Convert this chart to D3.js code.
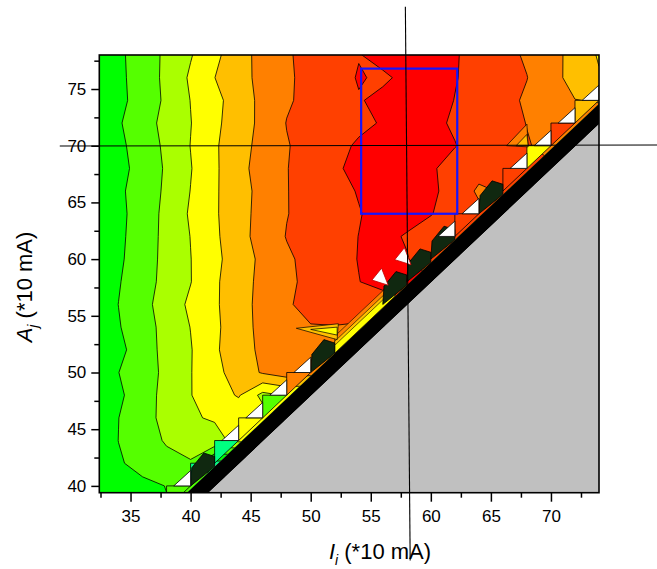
<!DOCTYPE html>
<html><head><meta charset="utf-8">
<script src="https://cdn.jsdelivr.net/npm/d3@7"></script>
<style>
body{margin:0;background:#fff}
svg{display:block}
text{font-family:"Liberation Sans",Arial,Helvetica,sans-serif;fill:#000}
</style>
</head><body>
<svg id="chart" width="657" height="569"></svg>
<script>
// ---------------- data ----------------
// grid of currents I_i (columns) and A_j (rows, top to bottom), units of 10 mA
const currentI = [32,34,36,38,40,42,44,46,48,50,52,54,56,58,60,62,64,66,68,70,72,74];
const currentA = [78,76,74,72,70,68,66,64,62,60,58,56,54,52,50,48,46,44,42,40,38];
const levelValues = [
 [-0.30,0.30,0.99,1.69,2.43,3.26,4.12,4.82,5.40,5.78,6.11,6.44,6.90,7.10,7.00,6.57,6.19,5.80,5.38,4.83,4.17,3.40], // 78
 [-0.35,0.27,0.97,1.72,2.64,3.49,4.15,4.78,5.40,5.70,5.93,6.60,6.30,6.80,7.00,6.55,6.19,5.86,5.52,4.86,4.13,3.60], // 76
 [-0.35,0.23,0.94,1.67,2.52,3.21,4.00,4.75,5.39,5.77,6.09,6.41,6.80,7.00,6.88,6.48,6.14,5.79,5.37,4.58,4.52,4.45], // 74
 [-0.30,0.40,1.09,1.79,2.47,3.29,4.01,4.75,5.53,5.79,6.06,6.30,6.57,6.90,6.69,6.40,6.10,5.80,5.48,5.20,4.90,4.90], // 72
 [-0.30,0.27,0.97,1.69,2.52,3.37,4.13,4.81,5.44,5.85,6.23,6.62,6.90,7.10,6.90,6.53,6.19,5.86,5.55,5.30,5.30,5.30], // 70
 [-0.20,0.17,0.89,1.62,2.45,3.34,4.21,4.89,5.47,5.91,6.35,6.78,7.00,6.90,6.60,6.20,5.95,5.75,5.60,5.60,5.60,5.60], // 68
 [-0.30,0.31,0.97,1.66,2.52,3.37,4.11,4.81,5.47,5.84,6.18,6.56,6.90,6.85,6.60,6.30,5.30,5.60,5.60,5.60,5.60,5.60], // 66
 [-0.30,0.24,0.97,1.75,2.62,3.37,4.14,4.84,5.47,5.81,6.13,6.45,6.80,6.85,6.53,6.20,5.80,5.80,5.80,5.80,5.80,5.80], // 64
 [-0.30,0.28,1.01,1.76,2.52,3.32,4.14,4.90,5.54,5.86,6.18,6.51,6.75,6.42,6.20,5.80,5.80,5.80,5.80,5.80,5.80,5.80], // 62
 [-0.40,0.33,1.05,1.77,2.48,3.26,4.01,4.72,5.35,5.79,6.16,6.53,6.80,6.55,6.00,6.00,6.00,6.00,6.00,6.00,6.00,6.00], // 60
 [-0.25,0.43,1.11,1.79,2.47,3.34,4.10,4.75,5.31,5.74,6.11,6.48,6.80,6.60,6.60,6.60,6.60,6.60,6.60,6.60,6.60,6.60], // 58
 [-0.18,0.51,1.20,1.93,2.68,3.35,4.11,4.80,5.39,5.80,6.10,6.30,6.00,6.00,6.00,6.00,6.00,6.00,6.00,6.00,6.00,6.00], // 56
 [-0.25,0.43,1.11,1.80,2.52,3.30,4.08,4.78,5.30,5.45,5.45,5.30,5.30,5.30,5.30,5.30,5.30,5.30,5.30,5.30,5.30,5.30], // 54
 [-0.30,0.22,1.05,1.79,2.44,3.36,4.06,4.71,5.10,5.20,5.00,5.00,5.00,5.00,5.00,5.00,5.00,5.00,5.00,5.00,5.00,5.00], // 52
 [-0.20,0.49,1.08,1.71,2.46,3.23,3.92,4.60,5.00,4.80,4.80,4.80,4.80,4.80,4.80,4.80,4.80,4.80,4.80,4.80,4.80,4.80], // 50
 [-0.30,0.31,1.08,1.80,2.47,3.00,3.60,2.20,2.60,2.60,2.60,2.60,2.60,2.60,2.60,2.60,2.60,2.60,2.60,2.60,2.60,2.60], // 48
 [-0.20,0.49,1.13,1.79,2.45,2.55,2.70,3.00,3.00,3.00,3.00,3.00,3.00,3.00,3.00,3.00,3.00,3.00,3.00,3.00,3.00,3.00], // 46
 [-0.20,0.51,1.06,1.60,2.00,2.30,2.70,2.70,2.70,2.70,2.70,2.70,2.70,2.70,2.70,2.70,2.70,2.70,2.70,2.70,2.70,2.70], // 44
 [-0.30,0.40,0.80,1.20,1.40,-0.80,-0.80,-0.80,-0.80,-0.80,-0.80,-0.80,-0.80,-0.80,-0.80,-0.80,-0.80,-0.80,-0.80,-0.80,-0.80,-0.80], // 42
 [-0.20,0.10,0.30,0.52,0.90,0.90,0.90,0.90,0.90,0.90,0.90,0.90,0.90,0.90,0.90,0.90,0.90,0.90,0.90,0.90,0.90,0.90], // 40
 [-0.20,0.10,0.30,0.45,0.45,0.45,0.45,0.45,0.45,0.45,0.45,0.45,0.45,0.45,0.45,0.45,0.45,0.45,0.45,0.45,0.45,0.45]  // 38
];
const contourLevels = [-0.5,0.5,1.5,2.5,3.5,4.5,5.5,6.5];
// cells just above the diagonal I = A (end point of the cell, band index)
const diagonalCells = [[40,2],[42,0],[44,0],[46,4],[48,2],[50,6],[64,7],[68,7],[70,4],[72,7],[74,5]];
// dense contour packs along the diagonal (end point of the cell)
const densePacks = [42,52,58,60,62,66];
// thin bands running along the diagonal (from I, to I, band)
const diagonalStrips = [[52,57,6],[52,57,5],[52,57,4]];
// isolated artefact triangles near the diagonal: three (I, A) corners and band
const artefacts = [
  [[66.3,70.0],[68.0,71.9],[68.1,69.9],6],
  [[67.1,70.0],[68.0,71.0],[68.1,70.0],5],
  [[48.8,53.9],[52.3,54.3],[52.2,52.9],5],
  [[50.0,53.8],[52.2,54.0],[52.2,53.3],4]
];
// white (uncovered) triangles at diagonal grid points
const whiteDiagonal = [40,44,46,48,50,62,64,68,70,72,74];
const whiteSpots = [[55.8,58.3],[57.7,60.1]];
const selectionI = [54.2,62.2];
const selectionA = [64.0,76.8];
const crossVertical = [[57.88,82.26],[58.28,33.43]];
const crossHorizontal = [[29.11,69.97],[78.86,70.06]];
const xTicks = [35,40,45,50,55,60,65,70];
const xMinor = [32.5,37.5,42.5,47.5,52.5,57.5,62.5,67.5,72.5];
const yTicks = [40,45,50,55,60,65,70,75];
const yMinor = [42.5,47.5,52.5,57.5,62.5,67.5,72.5,77.5];

// ---------------- styles ----------------
const bandColors = ["#00ff80","#00ff00","#55ff00","#aaff00","#ffff00","#ffbf00","#ff8000","#ff4000","#ff0000"];
const darkPack = "#102810";
const bandTopOffset = 0.3, bandBottomOffset = 2.1;
const stripWidths = [1.2,0.75,0.4];
const whiteW = 1.4, whiteH = 1.35;

const svg = d3.select("#chart");
const xDom = [32.4,74], yDom = [39.4,78];
const x = d3.scaleLinear().domain(xDom).range([99.3,599]);
const y = d3.scaleLinear().domain(yDom).range([492.7,55]);
const L = x.range()[0], R = x.range()[1], T = y.range()[1], B = y.range()[0];

const line = d3.line().x(d=>x(d[0])).y(d=>y(d[1]));
const poly = pts => line(pts) + "Z";

const defs = svg.append("defs");
defs.append("clipPath").attr("id","plotClip").append("rect")
  .attr("x",L).attr("y",T).attr("width",R-L).attr("height",B-T);
const validPts = [[xDom[0],yDom[1]],[xDom[1],yDom[1]],[xDom[1],xDom[1]-bandTopOffset],
  [yDom[0]+bandTopOffset,yDom[0]],[xDom[0],yDom[0]]];
defs.append("clipPath").attr("id","validClip").append("path").attr("d",poly(validPts));

// ---------------- contour field ----------------
const nx = currentI.length, ny = currentA.length;
const dI = currentI[1]-currentI[0], dA = currentA[1]-currentA[0];
const proj = d3.geoTransform({
  point(gx, gy){
    const I = currentI[0] + (gx-0.5)*dI;
    const A = currentA[0] + (gy-0.5)*dA;
    this.stream.point(x(I), y(A));
  }
});
const gpath = d3.geoPath(proj);
const contours = d3.contours().size([nx,ny]).thresholds(contourLevels)(levelValues.flat());

const field = svg.append("g").attr("clip-path","url(#plotClip)")
  .append("g").attr("clip-path","url(#validClip)");
field.append("rect").attr("x",L).attr("y",T).attr("width",R-L).attr("height",B-T).attr("fill",bandColors[0]);
field.selectAll("path.c").data(contours).join("path").attr("class","c")
  .attr("d",gpath)
  .attr("fill",(d,i)=>bandColors[i+1])
  .attr("stroke","#000").attr("stroke-width",0.8).attr("stroke-linejoin","round");

// strips along diagonal
field.selectAll("path.s").data(diagonalStrips).join("path").attr("class","s")
  .attr("d",(d,i)=>poly([[d[0],d[0]-bandTopOffset],[d[1],d[1]-bandTopOffset],[d[1],d[1]+stripWidths[i]],[d[0],d[0]+stripWidths[i]]]))
  .attr("fill",d=>bandColors[d[2]]).attr("stroke","#000").attr("stroke-width",0.6);

// diagonal cell triangles
field.selectAll("path.t").data(diagonalCells).join("path").attr("class","t")
  .attr("d",d=>poly([[d[0]-dI,d[0]-dI],[d[0]-dI,d[0]],[d[0],d[0]]]))
  .attr("fill",d=>bandColors[d[1]])
  .attr("stroke","#000").attr("stroke-width",0.8);

// dense contour packs
field.selectAll("path.p").data(densePacks).join("path").attr("class","p")
  .attr("d",d=>poly([[d-dI,d-dI],[d-dI*0.95,d-0.4],[d-dI*0.45,d+0.9],[d,d+0.6],[d,d-bandTopOffset]]))
  .attr("fill",darkPack).attr("stroke","#000").attr("stroke-width",0.8);

// artefact triangles
field.selectAll("path.a").data(artefacts).join("path").attr("class","a")
  .attr("d",d=>poly(d.slice(0,3)))
  .attr("fill",d=>bandColors[d[3]]).attr("stroke","#000").attr("stroke-width",0.7);

const overlay = svg.append("g").attr("clip-path","url(#plotClip)");
// black band and grey (no data) region
overlay.append("path").attr("d",poly([[yDom[0]+bandTopOffset,yDom[0]],[xDom[1],xDom[1]-bandTopOffset],
  [xDom[1],xDom[1]-bandBottomOffset],[yDom[0]+bandBottomOffset,yDom[0]]])).attr("fill","#000");
overlay.append("path").attr("d",poly([[yDom[0]+bandBottomOffset,yDom[0]],[xDom[1],xDom[1]-bandBottomOffset],
  [xDom[1],yDom[0]]])).attr("fill","#c0c0c0");

// white triangles
overlay.selectAll("path.w").data(whiteDiagonal).join("path").attr("class","w")
  .attr("d",d=>poly([[d,d],[d-whiteW,d],[d,d+whiteH]]))
  .attr("fill","#fff").attr("stroke","#000").attr("stroke-width",0.8);
overlay.selectAll("path.ws").data(whiteSpots).join("path").attr("class","ws")
  .attr("d",d=>poly([[d[0]+0.1,d[1]+0.9],[d[0]-0.7,d[1]-0.15],[d[0]+0.65,d[1]-0.6]]))
  .attr("fill","#fff").attr("stroke","#c00000").attr("stroke-width",0.8);

// selection rectangle
svg.append("rect")
  .attr("x",x(selectionI[0])).attr("y",y(selectionA[1]))
  .attr("width",x(selectionI[1])-x(selectionI[0])).attr("height",y(selectionA[0])-y(selectionA[1]))
  .attr("fill","none").attr("stroke","#1414ff").attr("stroke-width",2.2);

// frame
svg.append("rect").attr("x",L).attr("y",T).attr("width",R-L).attr("height",B-T)
  .attr("fill","none").attr("stroke","#000").attr("stroke-width",1.6);

// axes
const fs = 17;
const gx = svg.append("g").attr("transform",`translate(0,${B})`)
  .call(d3.axisBottom(x).tickValues(xTicks).tickSize(9).tickPadding(8).tickFormat(d3.format("d")));
const gxm = svg.append("g").attr("transform",`translate(0,${B})`)
  .call(d3.axisBottom(x).tickValues(xMinor).tickSize(5).tickFormat(""));
const gy = svg.append("g").attr("transform",`translate(${L},0)`)
  .call(d3.axisLeft(y).tickValues(yTicks).tickSize(8).tickPadding(5).tickFormat(d3.format("d")));
const gym = svg.append("g").attr("transform",`translate(${L},0)`)
  .call(d3.axisLeft(y).tickValues(yMinor).tickSize(5).tickFormat(""));
[gx,gxm,gy,gym].forEach(g=>{
  g.select(".domain").remove();
  g.selectAll(".tick line").attr("stroke","#000").attr("stroke-width",1.5);
  g.selectAll("text").attr("font-size",fs).attr("fill","#000")
    .style("font-family",'"Liberation Sans",Arial,sans-serif');
});

// crosshair lines
svg.append("path").attr("d",line(crossVertical)).attr("stroke","#000").attr("stroke-width",1.1).attr("fill","none");
svg.append("path").attr("d",line(crossHorizontal)).attr("stroke","#000").attr("stroke-width",1.1).attr("fill","none");

// axis titles
const tfs = 22;
const xt = svg.append("text").attr("x",380).attr("y",559).attr("text-anchor","middle").attr("font-size",tfs);
xt.append("tspan").attr("font-style","italic").text("I");
xt.append("tspan").attr("font-style","italic").attr("font-size",14).attr("dy",6).text("i");
xt.append("tspan").attr("dy",-6).text(" (*10 mA)");

const yt = svg.append("text").attr("transform","translate(32,287) rotate(-90)")
  .attr("text-anchor","middle").attr("font-size",tfs);
yt.append("tspan").attr("font-style","italic").text("A");
yt.append("tspan").attr("font-style","italic").attr("font-size",14).attr("dy",6).text("j");
yt.append("tspan").attr("dy",-6).text(" (*10 mA)");
</script>
</body></html>
